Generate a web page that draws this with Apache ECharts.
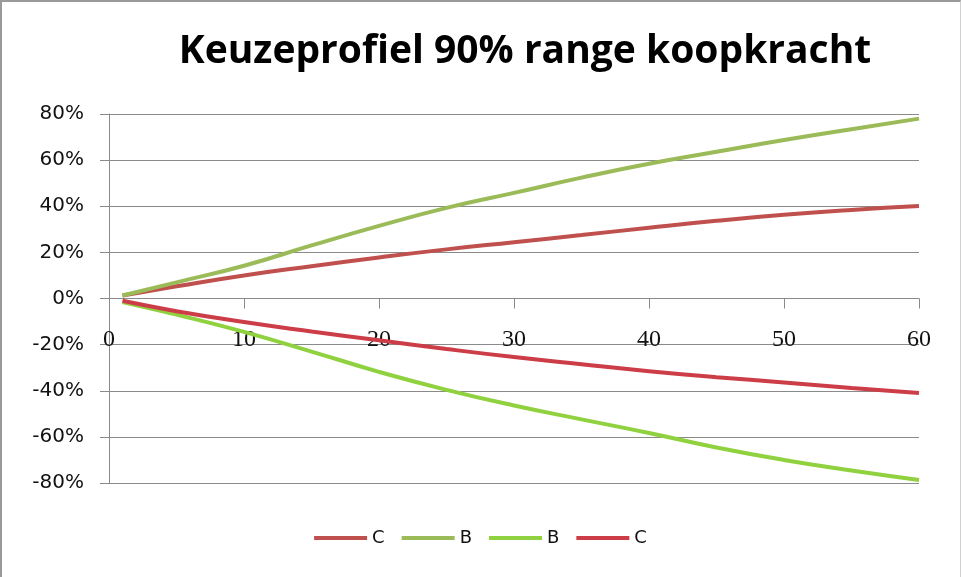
<!DOCTYPE html>
<html>
<head>
<meta charset="utf-8">
<script src="https://cdn.jsdelivr.net/npm/echarts@6/dist/echarts.min.js"></script>
<style>
html, body { margin: 0; padding: 0; background: #fff; }
#frame { position: absolute; left: 0; top: 0; width: 961px; height: 577px; box-sizing: border-box;
  border-left: 2px solid #9a9a9a; border-top: 2px solid #9a9a9a; border-right: 1px solid #d0d0d0; }
#chart { width: 961px; height: 577px; }
</style>
</head>
<body>
<div id="chart"></div>
<div id="frame"></div>
<script>
// jaren (x) en waarden in %
var years = [1, 5, 10, 15, 20, 25, 30, 35, 40, 45, 50, 55, 60];
var cUp   = [1.3, 5.3, 10, 14, 17.8, 21.3, 24.4, 27.5, 30.7, 33.7, 36.3, 38.4, 40.1];
var bUp   = [1.3, 7, 14.2, 23, 31.5, 39.3, 45.8, 52.4, 58.4, 63.6, 68.7, 73.4, 78];
var bDown = [-1.5, -7, -14.5, -23, -31.8, -39.6, -46.4, -52.4, -58.3, -64.6, -70, -74.6, -78.7];
var cDown = [-1.0, -5.5, -10.2, -14.3, -18.1, -21.9, -25.4, -28.5, -31.5, -34.1, -36.4, -38.8, -41];
var seriesNames = ['C1', 'B1', 'B2', 'C2'];
var colors = ['#c0504d', '#9bbb59', '#8fd13f', '#cc3d47'];

function pairs(vals) {
    return years.map(function (x, i) { return [x, vals[i]]; });
}

var chart = echarts.init(document.getElementById('chart'));
var allData = [cUp, bUp, bDown, cDown];

var option = {
    backgroundColor: '#fff',
    animation: false,
    title: {
        text: 'Keuzeprofiel 90% range koopkracht',
        left: 520,
        textAlign: 'center',
        top: 27,
        textStyle: { fontFamily: 'Open Sans', fontWeight: 'bold', fontSize: 39, color: '#000' }
    },
    legend: {
        data: seriesNames,
        bottom: 25,
        left: 'center',
        icon: 'rect',
        itemWidth: 53,
        itemHeight: 4,
        itemGap: 17,
        formatter: function (n) { return n.charAt(0); },
        textStyle: { fontFamily: 'DejaVu Sans', fontSize: 18, color: '#111' }
    },
    // grid 0: het plotvlak, grid 1: alleen om de x-labels onder de nul-lijn te zetten
    grid: [
        { left: 109, right: 42, top: 114, bottom: 94 },
        { left: 109, right: 42, top: 114, bottom: 279 }
    ],
    xAxis: [{
        type: 'value',
        min: 0,
        max: 60,
        interval: 10,
        axisLine: { onZero: true, lineStyle: { color: '#8a8a8a', width: 1 } },
        axisTick: { show: true, length: 10, inside: false, lineStyle: { color: '#8a8a8a' } },
        axisLabel: { show: false },
        splitLine: { show: false }
    }, {
        gridIndex: 1,
        type: 'value',
        min: 0,
        max: 60,
        interval: 10,
        axisLine: { show: false },
        axisTick: { show: false },
        axisLabel: { margin: 30, fontFamily: 'Liberation Serif', fontSize: 24, color: '#111' },
        splitLine: { show: false }
    }],
    yAxis: [{
        type: 'value',
        min: -80,
        max: 80,
        interval: 20,
        axisLine: { show: true, lineStyle: { color: '#8a8a8a', width: 1 } },
        axisTick: { show: true, length: 9, lineStyle: { color: '#8a8a8a' } },
        axisLabel: { margin: 25, fontFamily: 'DejaVu Sans', fontSize: 20, color: '#111',
            formatter: function (v) { return v + '%'; } },
        splitLine: { show: true, lineStyle: { color: '#8a8a8a', width: 1 } }
    }, {
        gridIndex: 1,
        type: 'value',
        min: 0,
        max: 80,
        show: false
    }],
    series: seriesNames.map(function (name, i) {
        return {
            name: name,
            type: 'line',
            data: pairs(allData[i]),
            smooth: true,
            showSymbol: false,
            symbol: 'none',
            color: colors[i],
            lineStyle: { width: 4, color: colors[i] }
        };
    })
};

chart.setOption(option);
</script>
</body>
</html>
